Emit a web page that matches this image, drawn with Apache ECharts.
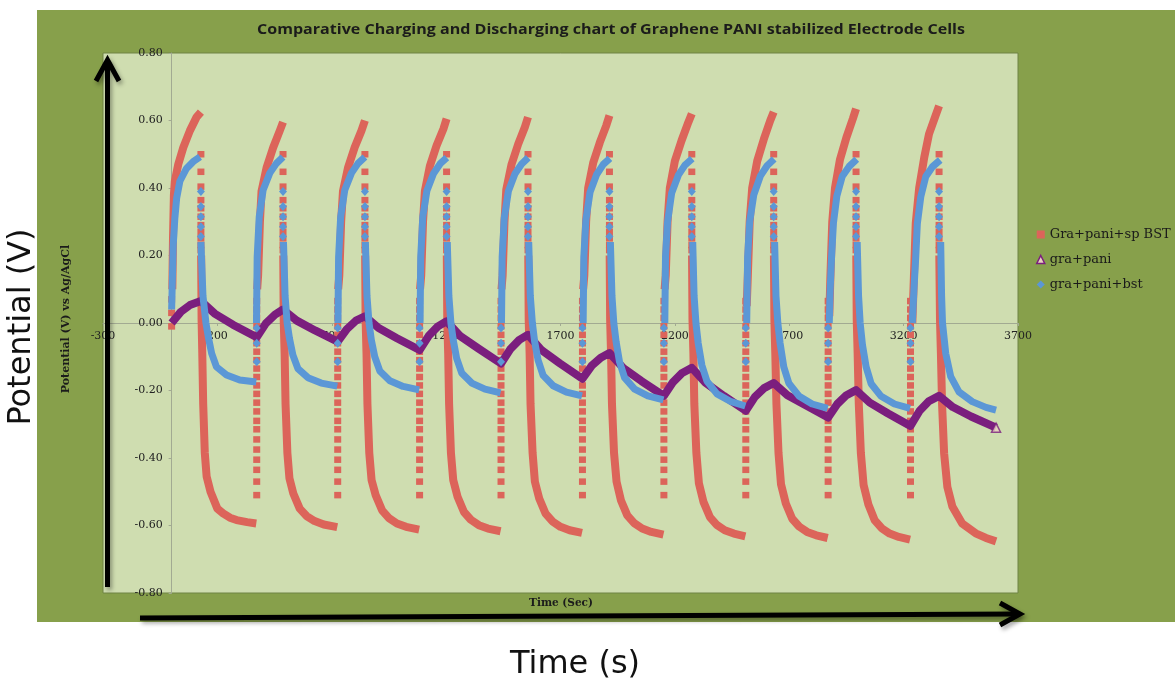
<!DOCTYPE html>
<html>
<head>
<meta charset="utf-8">
<script src="https://cdn.jsdelivr.net/npm/echarts@6/dist/echarts.min.js"></script>
<style>
html,body{margin:0;padding:0;background:#ffffff;}
#chart{width:1175px;height:682px;}
</style>
</head>
<body>
<div id="chart"></div>
<script>
// ---- Cycle timing (s) ----
const cycleStarts = [0, 372, 726, 1084, 1440, 1796, 2152, 2510, 2870, 3230];
const cyclePeaks  = [128, 487, 845, 1202, 1558, 1914, 2274, 2632, 2992, 3355];

// ---- Gra+pani+sp BST : [time s, potential V] ----
const bstChargeCurves = [
  [[3,0.10],[6,0.25],[10,0.38],[14,0.42],[29,0.47],[51,0.52],[80,0.57],[109,0.61],[128,0.625]],
  [[374,0.10],[378,0.14],[386,0.30],[393,0.39],[415,0.46],[444,0.52],[473,0.57],[487,0.595]],
  [[728,0.10],[733,0.14],[741,0.30],[749,0.39],[771,0.46],[800,0.52],[830,0.57],[845,0.60]],
  [[1086,0.10],[1091,0.14],[1099,0.30],[1107,0.39],[1129,0.465],[1158,0.525],[1188,0.575],[1202,0.605]],
  [[1442,0.10],[1447,0.14],[1455,0.30],[1463,0.395],[1486,0.47],[1515,0.53],[1544,0.58],[1558,0.61]],
  [[1799,0.10],[1804,0.14],[1812,0.30],[1821,0.40],[1843,0.475],[1872,0.535],[1900,0.585],[1914,0.615]],
  [[2155,0.10],[2160,0.14],[2168,0.30],[2178,0.40],[2200,0.48],[2229,0.54],[2259,0.595],[2274,0.62]],
  [[2514,0.05],[2519,0.14],[2527,0.30],[2538,0.40],[2560,0.48],[2589,0.545],[2617,0.60],[2632,0.625]],
  [[2875,0.02],[2880,0.14],[2888,0.30],[2900,0.40],[2922,0.485],[2950,0.55],[2978,0.605],[2992,0.635]],
  [[3238,0.0],[3245,0.137],[3253,0.295],[3268,0.40],[3290,0.49],[3311,0.56],[3340,0.615],[3355,0.643]]
];
const bstDischargeCurves = [
  [[129,0.20],[131,0.01],[134,-0.09],[138,-0.24],[145,-0.385],[153,-0.455],[170,-0.50],[200,-0.55],[225,-0.564],[255,-0.577],[284,-0.584],[330,-0.59],[370,-0.594]],
  [[488,0.20],[490,0.01],[494,-0.09],[498,-0.24],[506,-0.385],[515,-0.46],[532,-0.505],[560,-0.55],[590,-0.572],[625,-0.587],[665,-0.597],[724,-0.605]],
  [[846,0.20],[848,0.01],[852,-0.09],[856,-0.24],[864,-0.385],[874,-0.465],[892,-0.51],[920,-0.555],[950,-0.578],[985,-0.594],[1025,-0.604],[1082,-0.612]],
  [[1203,0.20],[1205,0.01],[1209,-0.09],[1213,-0.24],[1221,-0.385],[1231,-0.465],[1250,-0.515],[1278,-0.56],[1308,-0.583],[1343,-0.599],[1383,-0.609],[1438,-0.617]],
  [[1559,0.20],[1561,0.01],[1565,-0.09],[1569,-0.24],[1578,-0.385],[1588,-0.47],[1607,-0.52],[1635,-0.565],[1665,-0.588],[1700,-0.604],[1740,-0.614],[1794,-0.622]],
  [[1915,0.20],[1917,0.01],[1921,-0.09],[1925,-0.24],[1934,-0.385],[1945,-0.47],[1964,-0.525],[1992,-0.57],[2022,-0.593],[2057,-0.609],[2097,-0.619],[2150,-0.627]],
  [[2275,0.20],[2277,0.01],[2281,-0.09],[2285,-0.24],[2294,-0.385],[2305,-0.475],[2325,-0.53],[2353,-0.575],[2383,-0.598],[2418,-0.614],[2458,-0.624],[2508,-0.632]],
  [[2633,0.20],[2635,0.01],[2639,-0.09],[2644,-0.24],[2653,-0.385],[2664,-0.478],[2685,-0.535],[2713,-0.58],[2743,-0.603],[2778,-0.619],[2818,-0.629],[2868,-0.637]],
  [[2993,0.20],[2995,0.01],[2999,-0.09],[3004,-0.24],[3013,-0.385],[3025,-0.48],[3046,-0.538],[3074,-0.585],[3104,-0.608],[3139,-0.624],[3179,-0.634],[3228,-0.642]],
  [[3356,0.20],[3359,0.01],[3363,-0.09],[3368,-0.24],[3377,-0.386],[3391,-0.485],[3413,-0.544],[3456,-0.594],[3515,-0.623],[3560,-0.637],[3604,-0.647]]
];
// sparse readings logged right after each switch
const bstPeakSteps  = [0.50, 0.448, 0.404, 0.364, 0.34, 0.315, 0.29, 0.27, 0.251, 0.231, 0.216];
const bstRiseSteps  = [-0.51, -0.47, -0.435, -0.405, -0.375, -0.345, -0.315, -0.29, -0.262, -0.236, -0.21,
                       -0.185, -0.16, -0.135, -0.11, -0.085, -0.06, -0.035, -0.01, 0.015, 0.04, 0.065];
const bstFirstSteps = [-0.01, 0.03, 0.07];

// ---- gra+pani : [time s, potential V] ----
const paniCurve = [
  [0,0],[40,0.033],[80,0.053],[128,0.065],[188,0.028],[268,-0.005],[372,-0.042],
  [412,-0.001],[452,0.025],[487,0.04],[547,0.007],[627,-0.022],[726,-0.055],
  [766,-0.018],[806,0.007],[845,0.02],[905,-0.015],[985,-0.045],[1084,-0.08],
  [1124,-0.038],[1164,-0.01],[1202,0.005],[1262,-0.039],[1342,-0.076],[1440,-0.12],
  [1480,-0.078],[1520,-0.05],[1558,-0.035],[1618,-0.081],[1698,-0.12],[1796,-0.165],
  [1836,-0.127],[1876,-0.103],[1914,-0.089],[1974,-0.133],[2054,-0.172],[2152,-0.216],
  [2192,-0.175],[2232,-0.148],[2274,-0.133],[2334,-0.177],[2414,-0.216],[2510,-0.26],
  [2550,-0.219],[2590,-0.193],[2632,-0.178],[2692,-0.214],[2772,-0.244],[2870,-0.28],
  [2910,-0.24],[2950,-0.214],[2992,-0.199],[3052,-0.236],[3132,-0.268],[3230,-0.305],
  [3270,-0.26],[3310,-0.232],[3355,-0.216],[3415,-0.249],[3495,-0.277],[3604,-0.31]
];
const paniLast = [[3604, -0.31]];

// ---- gra+pani+bst : [time s, potential V] ----
const bstbChargeCurves = [
  [[0,0.04],[3,0.12],[7,0.23],[14,0.31],[22,0.37],[36,0.42],[65,0.458],[94,0.478],[124,0.492]],
  [[371,0.0],[374,0.196],[383,0.315],[400,0.394],[429,0.444],[458,0.473],[487,0.492]],
  [[727,0.0],[730,0.196],[739,0.315],[757,0.394],[786,0.444],[815,0.473],[845,0.492]],
  [[1086,0.0],[1089,0.196],[1098,0.315],[1116,0.392],[1145,0.443],[1174,0.472],[1203,0.49]],
  [[1442,0.0],[1445,0.196],[1454,0.31],[1472,0.39],[1501,0.442],[1530,0.471],[1559,0.49]],
  [[1799,0.0],[1802,0.196],[1811,0.305],[1829,0.387],[1858,0.44],[1887,0.47],[1916,0.488]],
  [[2156,0.0],[2159,0.196],[2168,0.30],[2186,0.385],[2215,0.438],[2244,0.468],[2276,0.487]],
  [[2514,0.0],[2518,0.196],[2527,0.30],[2545,0.38],[2574,0.436],[2603,0.466],[2634,0.486]],
  [[2875,0.0],[2879,0.10],[2885,0.196],[2893,0.295],[2908,0.376],[2932,0.435],[2962,0.464],[2995,0.485]],
  [[3238,0.0],[3245,0.098],[3253,0.196],[3260,0.295],[3275,0.374],[3297,0.434],[3326,0.463],[3360,0.483]]
];
const bstbDischargeCurves = [
  [[128,0.24],[137,0.08],[150,0.0],[160,-0.04],[175,-0.09],[196,-0.13],[240,-0.154],[298,-0.169],[370,-0.175]],
  [[489,0.24],[496,0.08],[505,0.0],[515,-0.045],[530,-0.095],[552,-0.135],[596,-0.162],[654,-0.178],[724,-0.187]],
  [[847,0.24],[854,0.08],[863,0.0],[873,-0.05],[888,-0.10],[910,-0.142],[954,-0.171],[1012,-0.188],[1082,-0.198]],
  [[1205,0.24],[1212,0.08],[1221,0.0],[1231,-0.05],[1246,-0.105],[1268,-0.148],[1312,-0.178],[1370,-0.196],[1438,-0.207]],
  [[1561,0.24],[1568,0.08],[1577,0.0],[1587,-0.055],[1602,-0.11],[1624,-0.155],[1668,-0.186],[1726,-0.205],[1794,-0.216]],
  [[1918,0.24],[1925,0.08],[1933,0.0],[1943,-0.055],[1958,-0.115],[1980,-0.162],[2024,-0.196],[2082,-0.216],[2150,-0.228]],
  [[2278,0.24],[2284,0.08],[2292,0.0],[2302,-0.06],[2318,-0.125],[2340,-0.172],[2384,-0.21],[2442,-0.232],[2508,-0.246]],
  [[2636,0.24],[2642,0.08],[2650,0.0],[2660,-0.06],[2676,-0.13],[2698,-0.178],[2742,-0.216],[2800,-0.24],[2868,-0.253]],
  [[2997,0.24],[3003,0.08],[3010,0.0],[3020,-0.065],[3036,-0.13],[3058,-0.18],[3100,-0.216],[3160,-0.24],[3228,-0.253]],
  [[3362,0.24],[3366,0.08],[3370,0.0],[3384,-0.09],[3406,-0.159],[3442,-0.204],[3500,-0.233],[3560,-0.25],[3604,-0.258]]
];
const bstbPeakSteps = [0.39, 0.345, 0.315, 0.285, 0.256];
const bstbRiseSteps = [-0.115, -0.06, -0.015];

// ---- Axis ticks ----
const timeTicks = { min: -300, max: 3700, step: 500 };
const potentialTicks = { min: -0.8, max: 0.8, step: 0.2 };

// ---- Names ----
const NAME_BST  = 'Gra+pani+sp BST';
const NAME_PANI = 'gra+pani';
const NAME_BSTB = 'gra+pani+bst';

const RED = '#dc645a', PURPLE = '#7b1e7e', BLUE = '#5b97d6';

const series = [];
function band(name, pts, color, width, z) {
  series.push({
    name, type: 'line', data: pts, symbol: 'none', showSymbol: false,
    lineStyle: { color, width, cap: 'butt', join: 'round' },
    itemStyle: { color }, z, silent: true, animation: false,
    emphasis: { disabled: true }
  });
}
function dots(name, pts, symbol, size, color, z) {
  series.push({
    name, type: 'scatter', data: pts, symbol, symbolSize: size,
    itemStyle: { color, opacity: 1 }, z, silent: true, animation: false,
    emphasis: { disabled: true }
  });
}

// Gra+pani+sp BST (drawn first, underneath)
bstChargeCurves.forEach(c => band(NAME_BST, c, RED, 8, 2));
bstDischargeCurves.forEach(c => band(NAME_BST, c, RED, 8, 2));
const bstDots = [];
bstFirstSteps.forEach(v => bstDots.push([cycleStarts[0], v]));
cycleStarts.slice(1).forEach(t => bstRiseSteps.forEach(v => bstDots.push([t, v])));
cyclePeaks.forEach(t => bstPeakSteps.forEach(v => bstDots.push([t, v])));
dots(NAME_BST, bstDots, 'rect', [7, 6.5], RED, 2);

// gra+pani
band(NAME_PANI, paniCurve, PURPLE, 8, 3);
series.push({
  name: NAME_PANI, type: 'scatter', data: paniLast, symbol: 'triangle', symbolSize: 9,
  itemStyle: { color: '#e8d3c0', borderColor: PURPLE, borderWidth: 1.5 },
  z: 3, silent: true, animation: false, emphasis: { disabled: true }
});

// gra+pani+bst (on top)
bstbChargeCurves.forEach(c => band(NAME_BSTB, c, BLUE, 7, 4));
bstbDischargeCurves.forEach(c => band(NAME_BSTB, c, BLUE, 7, 4));
const bstbDots = [];
cycleStarts.slice(1).forEach(t => bstbRiseSteps.forEach(v => bstbDots.push([t, v])));
cyclePeaks.forEach(t => bstbPeakSteps.forEach(v => bstbDots.push([t, v])));
dots(NAME_BSTB, bstbDots, 'diamond', [8, 9], BLUE, 4);

const SERIF = '"DejaVu Serif", "Liberation Serif", serif';
const shadow = { shadowColor: 'rgba(0,0,0,0.35)', shadowBlur: 4, shadowOffsetX: 2, shadowOffsetY: 3 };

// plot box in pixels; both axes are moved onto the other axis' zero
const GRID = { left: 103, right: 157, top: 53, bottom: 89 };
const plotW = 1175 - GRID.left - GRID.right;
const plotH = 682 - GRID.top - GRID.bottom;
const xAxisShift = -plotH * (0 - potentialTicks.min) / (potentialTicks.max - potentialTicks.min);
const yAxisShift = -plotW * (0 - timeTicks.min) / (timeTicks.max - timeTicks.min);

const chart = echarts.init(document.getElementById('chart'), null, { renderer: 'canvas' });
chart.setOption({
  animation: false,
  backgroundColor: '#ffffff',
  grid: Object.assign({ show: true, backgroundColor: '#cfddb0', borderColor: '#6f8344', borderWidth: 1 }, GRID),
  xAxis: {
    type: 'value', min: timeTicks.min, max: timeTicks.max, interval: timeTicks.step,
    position: 'bottom', offset: xAxisShift,
    axisLine: { onZero: false, lineStyle: { color: '#a2aa92', width: 1 } },
    axisTick: { show: true, length: 3, lineStyle: { color: '#a2aa92' } },
    axisLabel: { fontFamily: SERIF, fontSize: 11, color: '#222', margin: 8,
      showMinLabel: true, showMaxLabel: true, formatter: v => String(Math.round(v)) },
    splitLine: { show: false }
  },
  yAxis: {
    type: 'value', min: potentialTicks.min, max: potentialTicks.max, interval: potentialTicks.step,
    position: 'left', offset: yAxisShift,
    axisLine: { onZero: false, lineStyle: { color: '#a2aa92', width: 1 } },
    axisTick: { show: true, length: 3, lineStyle: { color: '#a2aa92' } },
    axisLabel: {
      fontFamily: SERIF, fontSize: 11, color: '#222', margin: 9,
      showMinLabel: true, showMaxLabel: true,
      formatter: v => (Math.abs(v) < 1e-9 ? 0 : v).toFixed(2)
    },
    splitLine: { show: false }
  },
  legend: {
    orient: 'vertical', left: 1031, top: 222, itemWidth: 8, itemHeight: 8, itemGap: 10,
    selectedMode: false,
    textStyle: { fontFamily: SERIF, fontSize: 13, color: '#1a1a1a', lineHeight: 15 },
    data: [
      { name: NAME_BST, icon: 'rect', itemStyle: { color: RED } },
      { name: NAME_PANI, icon: 'triangle', itemStyle: { color: '#e8d3c0', borderColor: PURPLE, borderWidth: 1.5 } },
      { name: NAME_BSTB, icon: 'diamond', itemStyle: { color: BLUE } }
    ]
  },
  graphic: [
    { type: 'rect', z: -20, silent: true, shape: { x: 37, y: 10, width: 1138, height: 612 }, style: { fill: '#87a04b' } },
    { type: 'text', silent: true, x: 611, y: 30, scaleX: 1.07, style: {
        text: 'Comparative Charging and Discharging chart of Graphene PANI stabilized Electrode Cells',
        font: 'bold 15px "Open Sans", sans-serif', fill: '#1b1b1b', textAlign: 'center', textVerticalAlign: 'middle' } },
    { type: 'text', silent: true, x: 66, y: 319, rotation: Math.PI / 2, style: {
        text: 'Potential (V) vs Ag/AgCl', font: 'bold 11px ' + SERIF, fill: '#1b1b1b',
        textAlign: 'center', textVerticalAlign: 'middle' } },
    { type: 'text', silent: true, x: 561, y: 603, style: {
        text: 'Time (Sec)', font: 'bold 10.5px ' + SERIF, fill: '#1b1b1b',
        textAlign: 'center', textVerticalAlign: 'middle' } },
    // outer annotations
    { type: 'text', silent: true, x: 22, y: 327, rotation: Math.PI / 2, style: {
        text: 'Potential (V)', font: '32px "DejaVu Sans", sans-serif', fill: '#111',
        textAlign: 'center', textVerticalAlign: 'middle' } },
    { type: 'text', silent: true, x: 575, y: 665, style: {
        text: 'Time (s)', font: '32px "DejaVu Sans", sans-serif', fill: '#111',
        textAlign: 'center', textVerticalAlign: 'middle' } },
    // arrows
    { type: 'polyline', z: 50, silent: true, shape: { points: [[107.5, 587], [107.5, 61]] },
      style: Object.assign({ stroke: '#000', lineWidth: 5, fill: null }, shadow) },
    { type: 'polyline', z: 50, silent: true, shape: { points: [[96, 81], [107.5, 60], [119, 81]] },
      style: Object.assign({ stroke: '#000', lineWidth: 5, fill: null, lineJoin: 'miter' }, shadow) },
    { type: 'polyline', z: 50, silent: true, shape: { points: [[140, 618], [1018, 614]] },
      style: Object.assign({ stroke: '#000', lineWidth: 5, fill: null }, shadow) },
    { type: 'polyline', z: 50, silent: true, shape: { points: [[1000, 603], [1020, 614], [1000, 625]] },
      style: Object.assign({ stroke: '#000', lineWidth: 5, fill: null, lineJoin: 'miter' }, shadow) }
  ],
  series
});
</script>
</body>
</html>
